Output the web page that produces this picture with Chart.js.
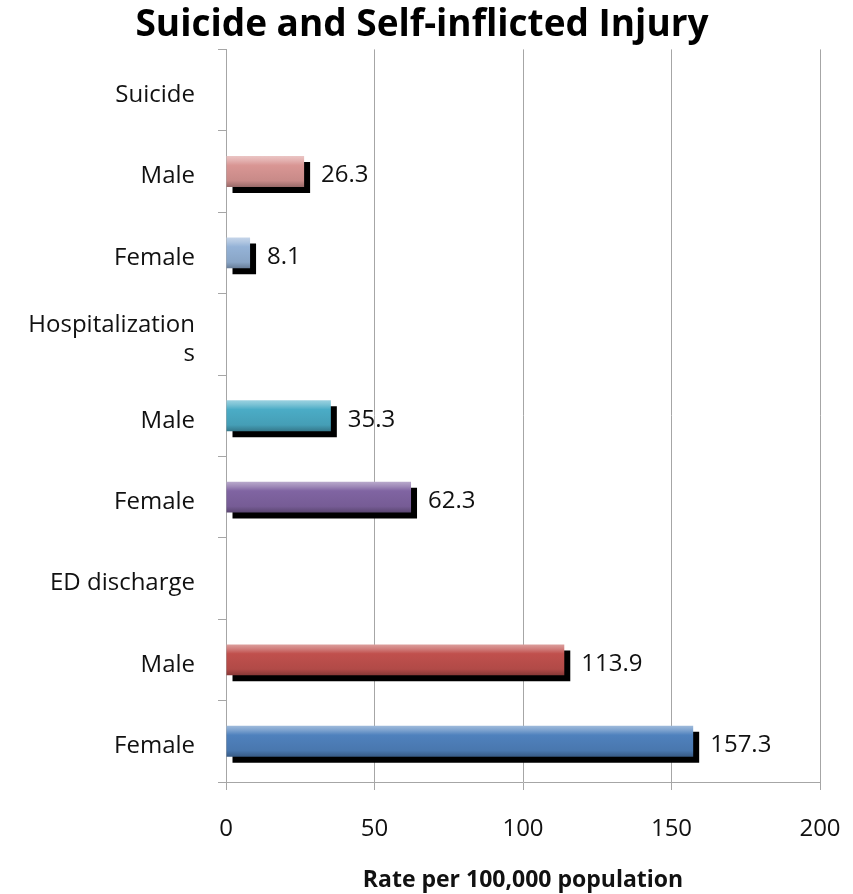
<!DOCTYPE html>
<html>
<head>
<meta charset="utf-8">
<script src="https://cdn.jsdelivr.net/npm/chart.js@4"></script>
<style>
  html, body { margin: 0; padding: 0; background: #fff; }
  #wrap { width: 853px; height: 894px; }
</style>
</head>
<body>
<div id="wrap"><canvas id="injuryChart" width="853" height="894"></canvas></div>
<script>
const categories = [
  "Suicide", "Male", "Female",
  ["Hospitalization", "s"], "Male", "Female",
  "ED discharge", "Male", "Female",
];
const rates = [null, 26.3, 8.1, null, 35.3, 62.3, null, 113.9, 157.3];
const barColors = [
  null, "#d99694", "#95b3d7",
  null, "#4bacc6", "#8064a2",
  null, "#c0504d", "#4f81bd",
];
const xTicks = [0, 50, 100, 150, 200];

const FONT = "'Open Sans', Lato, sans-serif";

function shade(hex, amt) {
  const n = parseInt(hex.slice(1), 16);
  let r = (n >> 16) & 255, g = (n >> 8) & 255, b = n & 255;
  const f = (c) => Math.round(amt >= 0 ? c + (255 - c) * amt : c * (1 + amt));
  return `rgb(${f(r)},${f(g)},${f(b)})`;
}

// bevel-like vertical gradient per bar
function barFill(c) {
  const col = barColors[c.dataIndex];
  if (!col) return "rgba(0,0,0,0)";
  const chart = c.chart;
  const y = chart.scales && chart.scales.y;
  if (!y || !chart.chartArea) return col;
  const mid = y.getPixelForValue(c.dataIndex);
  const half = (y.height / categories.length) * 0.38 / 2;
  const g = chart.ctx.createLinearGradient(0, mid - half, 0, mid + half);
  g.addColorStop(0, shade(col, 0.45));
  g.addColorStop(0.15, shade(col, 0.25));
  g.addColorStop(0.3, col);
  g.addColorStop(0.8, shade(col, -0.08));
  g.addColorStop(1, shade(col, -0.3));
  return g;
}

const barShadow = {
  id: "barShadow",
  beforeDatasetDraw(chart) {
    const ctx = chart.ctx;
    ctx.save();
    ctx.shadowColor = "#000";
    ctx.shadowOffsetX = 6;
    ctx.shadowOffsetY = 6;
    ctx.shadowBlur = 0;
  },
  afterDatasetDraw(chart) {
    chart.ctx.restore();
  },
};

const valueLabels = {
  id: "valueLabels",
  afterDatasetsDraw(chart) {
    const ctx = chart.ctx;
    const meta = chart.getDatasetMeta(0);
    ctx.save();
    ctx.font = `24px ${FONT}`;
    ctx.fillStyle = "#111";
    ctx.textAlign = "left";
    ctx.textBaseline = "middle";
    meta.data.forEach((bar, i) => {
      if (rates[i] == null) return;
      ctx.fillText(rates[i].toFixed(1), bar.x + 17, bar.y + 4);
    });
    ctx.restore();
  },
};

new Chart(document.getElementById("injuryChart").getContext("2d"), {
  type: "bar",
  data: {
    labels: categories,
    datasets: [
      {
        data: rates,
        backgroundColor: barFill,
        borderWidth: 0,
        barPercentage: 0.38,
        categoryPercentage: 1,
      },
    ],
  },
  options: {
    indexAxis: "y",
    responsive: false,
    animation: false,
    layout: { padding: { left: 24, right: 33, top: 0, bottom: 0 } },
    scales: {
      x: {
        min: 0,
        max: 200,
        afterBuildTicks(axis) {
          axis.ticks = xTicks.map((v) => ({ value: v }));
        },
        afterFit(axis) {
          axis.height = 112;
          axis.paddingLeft = 0;
          axis.paddingRight = 0;
        },
        grid: {
          color: "#a6a6a6",
          lineWidth: 1,
          tickLength: 8,
        },
        border: { color: "#a6a6a6" },
        ticks: {
          color: "#111",
          font: { family: FONT, size: 24 },
          padding: 25,
        },
        title: {
          display: true,
          text: "Rate per 100,000 population",
          color: "#111",
          font: { family: FONT, size: 23, weight: "bold" },
          padding: { top: 10, bottom: 0 },
        },
      },
      y: {
        afterFit(axis) {
          axis.width = 202;
        },
        grid: {
          offset: true,
          drawOnChartArea: false,
          color: "#a6a6a6",
          tickLength: 8,
        },
        border: { color: "#a6a6a6" },
        ticks: {
          color: "#111",
          font: { family: FONT, size: 24 },
          padding: 23,
          labelOffset: 5,
          autoSkip: false,
        },
      },
    },
    plugins: {
      legend: { display: false },
      tooltip: { enabled: false },
      title: {
        display: true,
        text: "Suicide and Self-inflicted Injury",
        color: "#000",
        font: { family: FONT, size: 37, weight: "bold" },
        padding: { top: 3, bottom: 2 },
      },
    },
  },
  plugins: [barShadow, valueLabels],
});
</script>
</body>
</html>
